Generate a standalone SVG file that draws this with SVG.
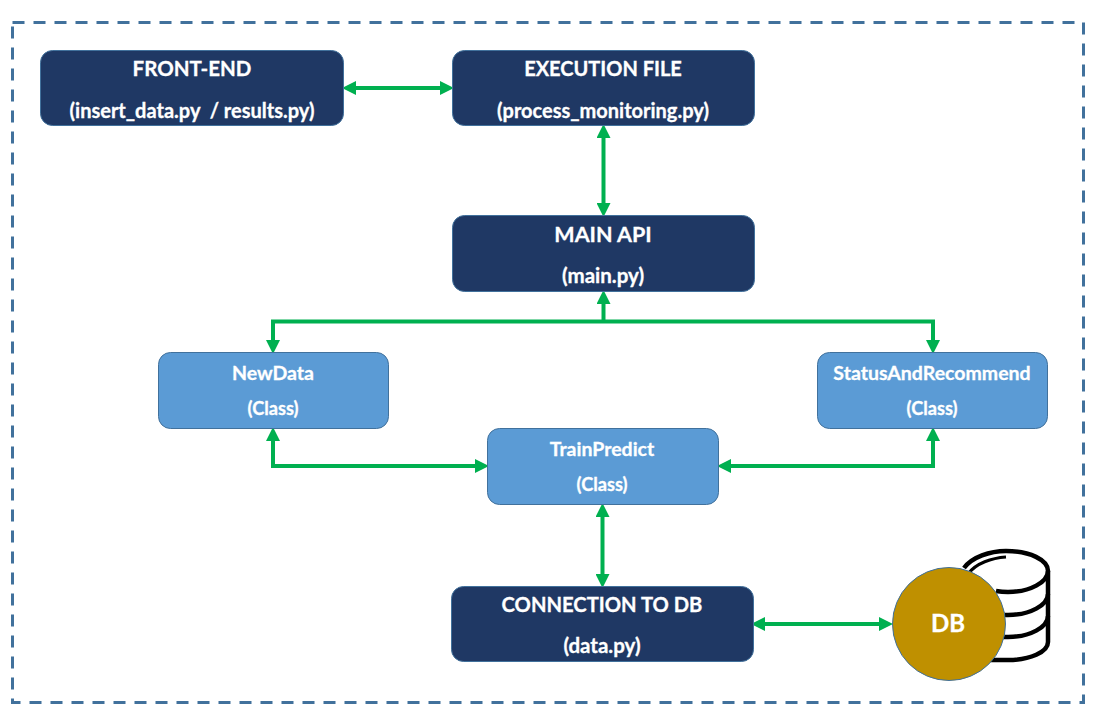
<svg xmlns="http://www.w3.org/2000/svg" width="1096" height="720" viewBox="0 0 1096 720">
<style>
text{font-family:Lato,"Open Sans",sans-serif;font-weight:700;fill:#fff;text-anchor:middle;stroke:#fff;stroke-width:.3px;white-space:pre}
.d rect{fill:#1f3864;stroke:#41719c;stroke-width:1}
.l rect{fill:#5b9bd5;stroke:#41719c;stroke-width:1}
.d text{font-size:20.500px}
.d text.p{font-size:20px}
.l text{font-size:19.500px}
.l text.k{font-size:18.200px}
.c path{fill:none;stroke:#00b050;stroke-width:4}
.s path{fill:none;stroke:#000;stroke-width:4.500}
</style>
<defs>
<marker id="a" markerUnits="userSpaceOnUse" markerWidth="14" markerHeight="14" refX="1" refY="7" orient="auto-start-reverse"><path d="M0 0L14 7L0 14Z" fill="#00b050"/></marker>
</defs>
<rect id="frame" x="12.500" y="22.500" width="1071" height="680" fill="none" stroke="#41719c" stroke-width="3" stroke-dasharray="12 9"/>
<g id="connectors" class="c">
<path d="M355 88H441" marker-start="url(#a)" marker-end="url(#a)"/>
<path d="M603.500 137V204" marker-start="url(#a)" marker-end="url(#a)"/>
<path d="M603.500 303V321" marker-start="url(#a)"/>
<path d="M273 341V321.500H933V341" marker-start="url(#a)" marker-end="url(#a)"/>
<path d="M273 440V466H476" marker-start="url(#a)" marker-end="url(#a)"/>
<path d="M933 440V466H730" marker-start="url(#a)" marker-end="url(#a)"/>
<path d="M602.500 516V575" marker-start="url(#a)" marker-end="url(#a)"/>
<path d="M764 624H880" marker-start="url(#a)" marker-end="url(#a)"/>
</g>
<g id="front-end" class="d"><rect x="40.500" y="50.500" width="303" height="75" rx="12"/><text x="192" y="76">FRONT-END</text><text class="p" x="192" y="118" xml:space="preserve">(insert_data.py  / results.py)</text></g>
<g id="execution-file" class="d"><rect x="452.500" y="50.500" width="302" height="75" rx="12"/><text class="p" x="603" y="76">EXECUTION FILE</text><text class="p" x="603" y="118">(process_monitoring.py)</text></g>
<g id="main-api" class="d"><rect x="452.500" y="215.500" width="302" height="76" rx="12"/><text x="603" y="242" style="font-size:21.500px">MAIN API</text><text x="603" y="283">(main.py)</text></g>
<g id="newdata" class="l"><rect x="158.500" y="352.500" width="230" height="76" rx="12"/><text x="273" y="380">NewData</text><text class="k" x="273" y="415">(Class)</text></g>
<g id="status" class="l"><rect x="817.500" y="352.500" width="230" height="76" rx="12"/><text x="932" y="380">StatusAndRecommend</text><text class="k" x="932" y="415">(Class)</text></g>
<g id="trainpredict" class="l"><rect x="487.500" y="428.500" width="231" height="76" rx="12"/><text x="602" y="456">TrainPredict</text><text class="k" x="602" y="491">(Class)</text></g>
<g id="connection" class="d"><rect x="451.500" y="586.500" width="302" height="75" rx="12"/><text class="p" x="602" y="612" style="font-size:20.200px">CONNECTION TO DB</text><text x="602" y="653">(data.py)</text></g>
<g id="db">
<g class="s">
<path d="M964 568C972 557 990 551 1006 551C1030 551 1048 560 1048 571V642C1048 652 1030 660 1008 660H990"/>
<path d="M996 591C1002 592 1006 592 1008 592C1030 592 1048 582 1048 571"/>
<path d="M1003 615H1008C1030 615 1048 605 1048 594"/>
<path d="M1003 637H1008C1030 637 1048 627 1048 616"/>
<path d="M968 574C976 563 992 558 1006 557" style="stroke-width:3"/>
</g>
<circle cx="949" cy="624" r="56.500" fill="#bf9000" stroke="#41719c" stroke-width="1"/>
<text x="948" y="632" style="font-size:24px">DB</text>
</g>
</svg>
